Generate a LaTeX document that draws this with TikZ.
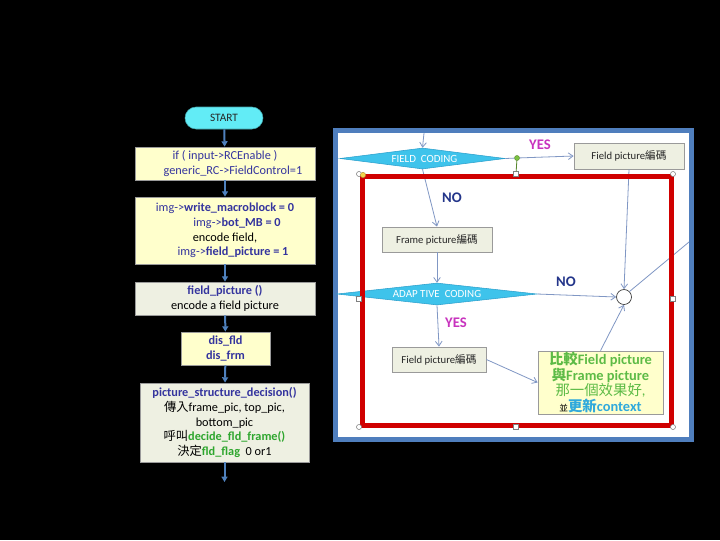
\documentclass[tikz,border=0pt]{standalone}
\usepackage{fontspec}
\setmainfont{Carlito}
\newfontfamily\cjk{Noto Sans CJK TC}
\usetikzlibrary{shapes.geometric,arrows.meta}
\definecolor{boxyellow}{HTML}{FFFFCC}
\definecolor{boxgreen}{HTML}{EEF0E2}
\definecolor{boxgray}{HTML}{9A9A9A}
\definecolor{codeblue}{HTML}{34349E}
\definecolor{codegreen}{HTML}{2EA62E}
\definecolor{flowblue}{HTML}{4F81BD}
\definecolor{startcyan}{HTML}{62ECF6}
\definecolor{panelblue}{HTML}{4F7EBD}
\definecolor{diacyan}{HTML}{3EC3EB}
\definecolor{diaedge}{HTML}{2A9FCC}
\definecolor{framered}{HTML}{D00000}
\definecolor{connblue}{HTML}{8097C4}
\definecolor{yesmag}{HTML}{C833BE}
\definecolor{nonavy}{HTML}{23358A}
\definecolor{cmpgreen}{HTML}{5DBB46}
\definecolor{cmpcyan}{HTML}{2FA9DC}
\definecolor{handlegreen}{HTML}{7CC242}
\definecolor{handleyellow}{HTML}{F3D24A}
\begin{document}
\begin{tikzpicture}[x=0.75pt,y=-0.75pt,
  lbox/.style={draw=boxgray, line width=0.6pt, inner sep=0pt, align=center,
    font=\fontsize{9.2}{10.9}\selectfont, text=codeblue},
  ybox/.style={lbox, fill=boxyellow},
  gbox/.style={lbox, fill=boxgreen},
  larrow/.style={draw=flowblue, line width=1.5pt, -{Triangle[length=4pt,width=4.5pt]}},
  rbox/.style={draw=boxgray, line width=0.6pt, fill=boxgreen, inner sep=0pt,
    font=\fontsize{8}{9}\selectfont, text=black!85},
  dia/.style={diamond, aspect=8, inner sep=0pt, fill=diacyan, draw=diaedge, line width=0.4pt,
    text=white, font=\fontsize{8.2}{9}\selectfont},
  rarrow/.style={draw=connblue, line width=0.6pt, -{Straight Barb[length=3.5pt,width=5pt]}},
  rline/.style={draw=connblue, line width=0.6pt},
  lab/.style={font=\fontsize{11}{12}\selectfont\bfseries, inner sep=0pt},
  hcirc/.style={circle, draw=gray, fill=white, line width=0.4pt, inner sep=0pt, minimum size=3.8pt},
  hsq/.style={rectangle, draw=gray, fill=white, line width=0.4pt, inner sep=0pt, minimum size=3.4pt}
]
\fill[black] (0,0) rectangle (720,540);
\useasboundingbox (0,0) rectangle (720,540);

% ---------------- left flowchart ----------------
\node[draw=startcyan!70!black, fill=startcyan, rounded corners=8.25pt, minimum width=58.5pt,
  minimum height=16.5pt, inner sep=0pt, font=\fontsize{8.5}{9}\selectfont, text=black!85] (start) at (224,118) {START};
\node[ybox, minimum width=135pt, minimum height=24.75pt] (b1) at (225,163.5)
  {if ( input->RCEnable )\\ \hspace*{12pt}generic\_RC->FieldControl=1};
\node[ybox, minimum width=135pt, minimum height=50.25pt] (b2) at (225,230.5)
  {img->\textbf{write\_macroblock = 0}\\ \hspace*{18pt}img->\textbf{bot\_MB = 0}\\ \textcolor{black}{encode field,}\\ \hspace*{12pt}img->\textbf{field\_picture = 1}};
\node[gbox, minimum width=135pt, minimum height=24.75pt] (b3) at (225,298.5)
  {\textbf{field\_picture ()}\\ \textcolor{black}{encode a field picture}};
\node[ybox, minimum width=66.75pt, minimum height=24.75pt] (b4) at (225.5,348.5)
  {\textbf{dis\_fld}\\ \textbf{dis\_frm}};
\node[gbox, minimum width=126.75pt, minimum height=59.25pt] (b5) at (224.5,422.5)
  {\textbf{picture\_structure\_decision()}\\
   \textcolor{black}{{\cjk 傳入}frame\_pic, top\_pic,}\\
   \textcolor{black}{bottom\_pic}\\
   \textcolor{black}{{\cjk 呼叫}}\textcolor{codegreen}{\textbf{decide\_fld\_frame()}}\\
   \textcolor{black}{{\cjk 決定}}\textcolor{codegreen}{\textbf{fld\_flag}}\textcolor{black}{\ \ 0 or1}};
\coordinate (lend) at (224.5,482);
\draw[larrow] (start) -- (b1);
\draw[larrow] (b1) -- (b2);
\draw[larrow] (b2) -- (b3);
\draw[larrow] (b3) -- (b4);
\draw[larrow] (b4) -- (b5);
\draw[larrow] (b5) -- (lend);

% ---------------- right panel ----------------
\draw[draw=panelblue, fill=white, line width=3.75pt] (335.5,130.5) rectangle (691.5,439);

\node[dia, minimum width=123.75pt, minimum height=15.75pt] (fc) at (422.5,158.5) {\hspace*{3pt}FIELD\ \ CODING};
\node[dia, minimum width=150pt, minimum height=16.5pt] (ac) at (437,294) {ADAP TIVE\ \ CODING};

\node[rbox, minimum width=82.5pt, minimum height=19.5pt] (fp1) at (629,156) {Field picture{\cjk 編碼}};
\node[rbox, minimum width=82.5pt, minimum height=18.75pt] (frm) at (437,239.5) {Frame picture{\cjk 編碼}};
\node[rbox, minimum width=70.5pt, minimum height=18.75pt] (fp2) at (439,359.5) {Field picture{\cjk 編碼}};
\node[draw=boxgray, line width=0.6pt, fill=boxyellow, inner sep=0pt, minimum width=93.75pt,
  minimum height=47.25pt, align=center, font=\fontsize{10.8}{11.6}\selectfont] (cmp) at (600.5,382.5)
  {\textcolor{cmpgreen}{\textbf{{\cjk 比較}Field picture}}\\
   \textcolor{cmpgreen}{\textbf{{\cjk 與}Frame picture}}\\
   \textcolor{cmpgreen}{{\cjk 那一個效果好},}\\
   {\fontsize{6.5}{6.5}\selectfont\cjk 並}\textcolor{cmpcyan}{\textbf{{\cjk 更新}context}}};
\node[circle, draw=black!80, fill=white, line width=0.5pt, minimum size=11.25pt, inner sep=0pt] (circ) at (624,297) {};

\coordinate (ptop) at (424,133);
\coordinate (oute) at (689,242);
\node[circle, fill=handlegreen, draw=handlegreen!70!black, line width=0.3pt, inner sep=0pt, minimum size=3.8pt] (gdot) at (517,158) {};

\draw[rarrow] (ptop) -- (fc.north);
\draw[rline] (fc.east) -- (gdot);
\draw[rarrow] (gdot) -- (fp1.west);
\draw[rarrow] (fc.south) -- (frm.north);
\draw[rarrow] (frm.south) -- (ac.north);
\draw[rarrow] (ac.east) -- (circ.west);
\draw[rarrow] (fp1.south) -- (circ.north);
\draw[rline] (circ.north east) -- (oute);
\draw[rarrow] (ac.south) -- (fp2.north);
\draw[rarrow] (fp2.east) -- (cmp.west);
\draw[rarrow] (cmp.north) -- (circ.south);

\node[lab, text=yesmag] (yes1) at (540,145) {YES};
\node[lab, text=nonavy] (no1) at (452,198) {NO};
\node[lab, text=nonavy] (no2) at (566,282) {NO};
\node[lab, text=yesmag] (yes2) at (456,323) {YES};

% red selection frame with handles
\draw[draw=framered, line width=3.75pt] (362.5,176.5) rectangle (671,425);
\node[hsq] (htm) at (516,174) {};
\draw[draw=handlegreen!70!black, line width=0.6pt] (gdot) -- (htm);
\node[hcirc] (htl) at (359,174) {};
\node[circle, fill=handleyellow, draw=handleyellow!70!black, line width=0.3pt, inner sep=0pt, minimum size=4pt] (hy) at (363,175) {};
\node[hcirc] (htr) at (673,174) {};
\node[hcirc] (hbl) at (359,427) {};
\node[hcirc] (hbr) at (673,427) {};
\node[hsq] (hml) at (359,299) {};
\node[hsq] (hmr) at (673,299) {};
\node[hsq] (hbm) at (516,427) {};
\end{tikzpicture}
\end{document}
